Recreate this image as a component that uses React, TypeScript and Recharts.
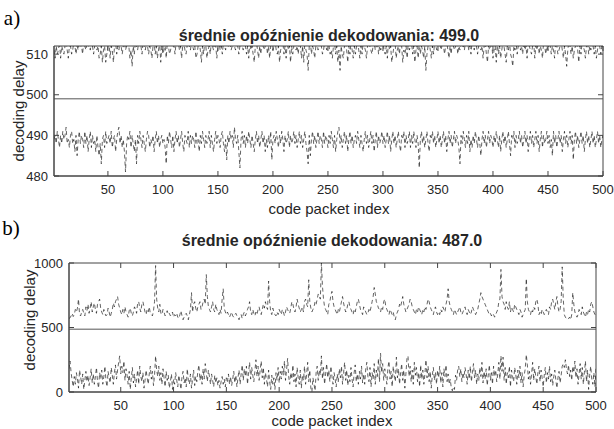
import React from 'react';
import { LineChart, Line, XAxis, YAxis, ReferenceLine, ReferenceArea } from 'recharts';

const X_TICKS = [50, 100, 150, 200, 250, 300, 350, 400, 450, 500];
const A_Y_TICKS = [480, 490, 500, 510];
const B_Y_TICKS = [0, 500, 1000];
const A_MEAN = 499.0;
const B_MEAN = 487.0;

// panel a) – upper and lower delay traces
const A_HIGH = [
  511,509,512,510,511,513,509,512,511,510,512,513,511,509,512,512,510,511,513,512,510,512,511,513,512,
  512,510,513,512,511,513,512,512,511,513,512,510,512,513,511,512,509,510,512,508,511,512,508,510,512,
  513,509,512,511,508,512,513,510,512,511,513,512,510,512,513,511,512,513,512,509,511,507,512,510,513,
  512,511,513,512,512,510,513,512,511,513,512,510,512,511,509,512,513,510,512,509,511,513,508,512,510,
  511,512,509,513,512,510,511,513,512,512,510,513,512,513,511,512,509,512,513,511,510,512,513,512,511,
  513,512,511,512,509,510,512,513,511,508,512,510,513,512,509,511,512,510,513,512,511,513,512,509,512,
  513,511,512,510,513,512,511,513,512,512,513,511,512,513,512,511,513,512,510,512,513,512,511,513,512,
  510,512,509,513,511,512,510,508,512,513,511,509,512,510,513,512,511,512,513,510,512,509,512,513,511,
  512,513,511,510,512,508,511,512,513,510,512,509,513,511,512,508,512,510,512,513,511,512,510,513,512,
  509,512,508,513,511,510,506,512,513,510,512,511,509,512,513,511,512,513,512,510,511,513,512,511,513,
  512,510,511,509,512,513,510,512,508,511,506,512,510,509,512,513,511,508,512,510,513,511,509,512,510,
  512,513,511,509,512,510,513,512,511,509,512,513,512,511,510,512,513,511,512,513,510,512,511,512,513,
  511,510,512,509,513,511,512,508,510,512,513,509,511,512,510,513,512,508,511,510,512,509,513,511,512,
  513,510,512,508,511,512,509,513,510,512,511,509,512,506,510,512,513,511,509,512,510,513,512,511,512,
  513,512,511,513,512,510,512,513,511,509,512,510,513,512,511,512,513,510,512,511,513,512,512,511,513,
  512,513,511,512,510,513,512,511,513,512,510,512,513,511,512,509,512,513,510,508,512,511,513,512,509,
  511,512,508,513,510,512,509,511,513,512,510,508,512,511,513,510,509,507,512,511,513,510,512,513,511,
  512,510,513,511,512,509,513,512,511,510,512,513,509,512,511,513,510,512,511,509,513,512,510,512,511,
  513,512,510,512,511,509,513,512,510,511,512,513,511,509,512,510,507,511,513,512,510,512,509,511,512,
  513,511,508,512,510,513,512,511,509,512,513,510,512,511,513,512,510,512,509,511,513,512,510,512,511,
];
const A_LOW = [
  489,490,488,491,489,487,490,488,491,489,490,492,488,489,487,490,491,488,489,486,490,485,489,491,488,
  490,489,487,491,488,490,486,489,491,487,490,488,489,486,490,487,485,488,483,489,490,487,491,488,489,
  490,488,491,487,489,490,486,489,491,492,488,490,487,489,486,481,488,490,489,491,487,490,488,486,489,
  483,490,488,491,489,487,490,488,486,489,491,490,487,489,488,490,486,489,491,488,490,487,489,490,488,
  489,487,483,490,488,491,489,487,490,486,489,491,488,490,487,489,491,488,486,490,489,488,491,487,490,
  488,490,489,487,491,488,489,486,490,488,491,489,487,490,488,489,491,487,490,488,486,489,491,488,490,
  489,487,490,491,488,486,489,484,490,488,491,489,490,487,492,489,488,490,486,482,489,491,488,490,487,
  490,488,491,489,487,490,488,486,489,491,488,490,487,489,491,488,490,486,489,487,490,488,491,484,489,
  490,488,491,489,487,490,488,491,489,486,490,488,489,491,487,490,488,489,491,488,490,487,489,491,488,
  490,487,489,491,488,486,483,490,485,489,491,488,490,487,489,491,488,490,489,487,491,488,490,489,487,
  490,488,491,489,487,490,486,489,491,492,488,490,487,489,491,488,490,486,489,491,488,490,487,489,490,
  488,491,489,487,490,488,486,489,491,488,490,487,489,491,488,490,486,489,491,487,490,488,489,491,488,
  490,487,489,491,488,490,486,489,491,488,490,487,489,491,488,486,490,489,491,487,490,488,489,491,487,
  490,488,491,489,487,490,488,482,489,491,488,490,487,489,491,488,486,490,489,491,488,490,487,489,491,
  488,490,487,489,491,488,490,486,489,491,488,490,487,489,491,488,490,489,487,483,490,488,491,489,487,
  490,488,491,486,489,487,490,488,491,489,487,490,488,485,489,491,488,490,487,489,491,488,490,489,487,
  490,488,491,489,487,490,486,489,491,488,490,487,489,491,488,485,490,489,491,487,490,488,489,491,488,
  490,487,489,491,488,490,486,489,491,488,490,487,489,491,488,490,486,489,491,487,490,488,489,491,488,
  490,487,489,485,491,488,490,487,489,491,488,490,486,489,491,488,490,487,489,491,488,490,484,489,491,
  488,490,487,489,491,488,490,486,489,491,488,490,487,489,491,488,490,487,489,491,488,490,487,489,490,
];

// panel b) – upper and lower delay traces
const B_HIGH = [
  570,575,590,610,585,600,640,620,650,720,600,590,620,640,610,590,660,630,680,610,650,700,620,660,690,
  640,610,680,700,720,650,620,600,640,610,590,600,650,620,580,610,640,690,660,700,720,740,680,650,620,
  600,640,610,660,620,600,580,630,650,610,590,620,660,640,610,690,700,650,620,680,700,660,620,600,640,
  620,660,610,600,590,630,700,980,720,650,620,680,610,600,640,620,590,610,630,600,610,590,600,620,580,
  600,590,610,580,570,600,630,590,560,580,600,610,590,560,600,640,770,620,680,700,650,620,660,680,700,
  640,660,700,720,680,910,740,660,640,620,660,700,640,620,680,640,620,600,640,610,720,800,650,620,600,
  620,600,580,600,620,590,580,600,610,590,580,560,590,600,570,600,620,590,610,640,660,700,620,600,640,
  610,590,620,600,640,660,620,600,640,680,650,700,660,640,860,700,620,600,650,620,600,590,620,600,640,
  620,600,640,620,590,620,660,640,620,610,650,700,680,640,620,660,720,680,650,620,640,660,620,700,720,
  680,660,870,700,650,620,640,660,700,680,720,760,740,720,1000,820,720,660,640,620,600,680,700,750,780,
  700,660,640,620,600,640,620,660,700,740,690,650,620,640,680,700,660,640,620,600,640,620,660,700,720,
  680,640,620,600,660,640,620,600,610,640,620,660,700,740,810,760,700,680,650,640,620,660,640,700,720,
  660,640,620,600,640,620,600,620,580,560,600,620,640,680,660,700,740,680,650,620,640,660,680,720,700,
  660,640,620,600,640,620,660,640,620,600,640,620,660,640,680,720,700,660,640,620,600,640,660,620,600,
  620,600,640,620,660,640,620,680,720,800,700,660,640,620,600,640,620,600,620,640,660,620,600,620,640,
  660,620,600,640,620,600,620,660,640,620,600,620,640,680,720,770,740,720,700,680,660,640,620,600,610,
  590,610,600,580,600,620,640,700,720,950,740,700,680,640,700,660,640,700,620,660,640,620,680,660,640,
  620,600,640,620,580,600,620,640,880,700,640,620,600,640,620,660,640,700,720,680,600,620,600,640,620,
  600,620,640,620,600,660,640,700,720,680,640,700,740,660,620,640,700,970,720,600,580,570,560,570,580,
  560,600,770,680,620,600,580,600,640,620,600,660,620,600,580,620,600,640,620,680,700,660,620,600,610,
];
const B_LOW = [
  180,240,150,90,40,120,60,150,100,30,170,120,60,140,20,90,160,80,130,50,110,180,70,140,60,
  120,190,80,30,150,100,170,60,120,200,90,40,160,110,70,190,130,60,150,210,100,170,230,280,140,
  200,150,240,90,180,130,60,160,20,110,190,70,140,40,100,170,60,200,120,80,150,30,90,170,110,
  60,140,200,100,160,50,130,280,170,120,200,90,150,60,180,110,40,160,90,130,30,80,140,20,100,
  60,150,90,40,130,80,20,120,160,70,110,40,180,90,60,140,30,100,170,50,120,80,160,210,90,
  140,60,180,100,220,150,80,170,120,60,140,90,40,130,70,110,50,90,30,80,120,60,100,40,110,
  80,140,60,120,50,100,160,70,130,40,110,170,60,140,210,90,180,120,200,60,150,230,100,190,130,
  80,160,250,120,200,90,170,240,110,190,60,150,100,40,170,80,20,130,60,110,20,150,90,190,70,
  160,100,200,130,240,90,170,260,120,60,150,100,210,80,140,40,190,110,60,170,30,130,90,200,60,
  140,230,80,170,30,0,110,60,10,150,200,90,170,130,280,100,190,60,140,220,110,170,80,200,120,
  60,150,100,40,140,80,180,110,200,60,150,230,90,170,50,130,80,190,100,40,150,210,80,140,60,
  160,100,200,70,140,60,180,230,120,80,190,40,150,100,220,60,170,120,260,80,300,150,220,90,180,
  120,60,190,240,100,160,40,200,130,80,270,110,180,60,150,220,90,170,30,140,260,280,120,200,80,
  170,60,230,130,190,80,150,40,210,100,170,60,140,250,110,200,80,160,30,130,190,90,150,60,170,
  110,200,70,150,40,180,120,210,80,140,60,100,30,10,40,20,130,90,170,200,120,180,80,150,110,
  190,140,60,170,100,200,80,150,220,110,170,60,140,90,190,120,230,70,160,100,180,50,130,210,90,
  150,60,200,120,170,80,140,230,100,280,160,270,90,190,60,150,110,200,40,170,120,80,190,140,60,
  170,110,200,70,150,40,130,180,290,210,100,160,60,140,230,90,180,120,60,150,200,80,170,110,40,
  130,190,70,150,100,200,80,140,50,120,170,90,30,110,160,70,130,200,220,190,250,180,140,210,120,
  170,90,200,150,240,110,180,60,140,220,100,190,60,150,240,80,170,20,130,200,100,60,150,40,180,
];

const AXIS = '#444';
const TEXT = '#262626';
const SANS = '"Liberation Sans", Arial, Helvetica, sans-serif';
const SERIF = '"Liberation Serif", "Times New Roman", serif';

type Box = { top: number; bottom: number; left: number; right: number };

const toRows = (hi: number[], lo: number[]) =>
  hi.map((v, k) => ({ idx: k + 1, hi: v, lo: lo[k] }));

const xTick = (box: Box) => (props: any) => {
  const x = props.x;
  return (
    <g>
      <line x1={x} x2={x} y1={box.bottom} y2={box.bottom - 5} stroke={AXIS} />
      <line x1={x} x2={x} y1={box.top} y2={box.top + 5} stroke={AXIS} />
      <text x={x} y={box.bottom + 18} textAnchor="middle" fill={TEXT} fontSize={13} fontFamily={SANS}>
        {props.payload.value}
      </text>
    </g>
  );
};

const yTick = (box: Box) => (props: any) => {
  const y = props.y;
  return (
    <g>
      <line x1={box.left} x2={box.left + 5} y1={y} y2={y} stroke={AXIS} />
      <line x1={box.right} x2={box.right - 5} y1={y} y2={y} stroke={AXIS} />
      <text x={box.left - 6} y={y + 4.5} textAnchor="end" fill={TEXT} fontSize={13} fontFamily={SANS}>
        {props.payload.value}
      </text>
    </g>
  );
};

const Label = ({ cx, cy, size, bold, rotate, serif, children }: any) => (
  <div
    style={{
      position: 'absolute',
      left: cx,
      top: cy,
      transform: `translate(-50%, -50%)${rotate ? ' rotate(-90deg)' : ''}`,
      whiteSpace: 'nowrap',
      lineHeight: 1,
      fontSize: size,
      fontWeight: bold ? 'bold' : 'normal',
      fontFamily: serif ? SERIF : SANS,
      color: serif ? '#000' : TEXT,
    }}
  >
    {children}
  </div>
);

const Panel = ({ data, top, height, box, domain, ticks, mean }: any) => (
  <div style={{ position: 'absolute', left: 0, top }}>
    <LineChart
      width={614}
      height={height}
      data={data}
      margin={{ top: box.top, right: 614 - box.right, left: 0, bottom: 0 }}
    >
      <XAxis
        dataKey="idx"
        type="number"
        domain={[1, 500]}
        ticks={X_TICKS}
        interval={0}
        height={height - box.bottom}
        allowDataOverflow
        stroke={AXIS}
        tickLine={false}
        tick={xTick(box)}
      />
      <YAxis
        type="number"
        domain={domain}
        ticks={ticks}
        interval={0}
        width={box.left}
        allowDataOverflow
        stroke={AXIS}
        tickLine={false}
        tick={yTick(box)}
      />
      <ReferenceArea x1={1} x2={500} y1={domain[0]} y2={domain[1]} fill="none" stroke={AXIS} strokeOpacity={1} />
      <Line dataKey="hi" stroke="#111" strokeWidth={0.65} strokeDasharray="4 3" dot={false} isAnimationActive={false} />
      <Line dataKey="lo" stroke="#111" strokeWidth={0.65} strokeDasharray="4 3" dot={false} isAnimationActive={false} />
      <ReferenceLine y={mean} stroke="#555" strokeWidth={1} />
    </LineChart>
  </div>
);

export default function App() {
  const dataA = toRows(A_HIGH, A_LOW);
  const dataB = toRows(B_HIGH, B_LOW);
  const boxA: Box = { top: 46, bottom: 176, left: 54, right: 603 };
  const boxB: Box = { top: 48, bottom: 177, left: 69, right: 596 };
  return (
    <div style={{ position: 'absolute', left: 0, top: 0, width: 614, height: 429, background: '#fff', overflow: 'hidden' }}>
      <Panel data={dataA} top={0} height={215} box={boxA} domain={[480, 512]} ticks={A_Y_TICKS} mean={A_MEAN} />
      <Panel data={dataB} top={215} height={214} box={boxB} domain={[0, 1000]} ticks={B_Y_TICKS} mean={B_MEAN} />

      <Label cx={12} cy={18} size={21} serif>a)</Label>
      <Label cx={329} cy={36} size={16} bold>średnie opóźnienie dekodowania: {A_MEAN.toFixed(1)}</Label>
      <Label cx={18} cy={111} size={15} rotate>decoding delay</Label>
      <Label cx={329} cy={208} size={15}>code packet index</Label>

      <Label cx={11} cy={228} size={21} serif>b)</Label>
      <Label cx={332} cy={241} size={16} bold>średnie opóźnienie dekodowania: {B_MEAN.toFixed(1)}</Label>
      <Label cx={29} cy={320} size={15} rotate>decoding delay</Label>
      <Label cx={332} cy={420} size={15}>code packet index</Label>
    </div>
  );
}
